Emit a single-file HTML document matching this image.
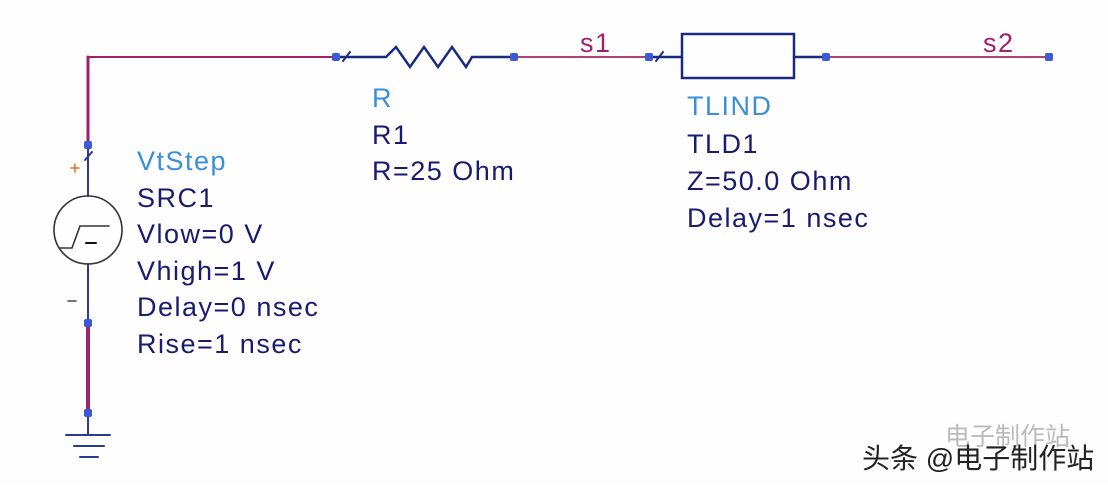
<!DOCTYPE html>
<html><head><meta charset="utf-8"><style>
body{margin:0;background:#fff;width:1108px;height:486px;overflow:hidden}
text{font-family:"Liberation Sans",sans-serif}
</style></head><body>
<svg width="1108" height="486" viewBox="0 0 1108 486" xmlns="http://www.w3.org/2000/svg">
<rect width="1108" height="486" fill="#fefefe"/>
<g fill="none" stroke-linecap="round">
<path d="M88 145 V57 H336" stroke="#a0206a" stroke-width="2"/>
<path d="M88 57 V145" stroke="#a0206a" stroke-width="3"/>
<path d="M514 57 H649 M826 57 H1049" stroke="#b0407a" stroke-width="2"/>
<path d="M88 323 V413" stroke="#a0206a" stroke-width="4"/>
<path d="M336 57 H386 L396 47 L410 67 L424 47 L438 67 L452 47 L466 67 L472 57 H514" stroke="#1a2a80" stroke-width="2.5"/>
<path d="M343 61 L350 52" stroke="#1a2a80" stroke-width="2"/>
<path d="M649 57 H682 M794 57 H826" stroke="#1a2a80" stroke-width="2.5"/>
<path d="M656 61 L663 52" stroke="#1a2a80" stroke-width="2"/>
<rect x="682" y="34" width="112" height="44" stroke="#1a2a80" stroke-width="2.5"/>
<path d="M88 145 V196 M88 264 V323" stroke="#2a3a90" stroke-width="2"/>
<path d="M85 160 L92 152" stroke="#2a3a90" stroke-width="2"/>
<circle cx="88" cy="230" r="34" stroke="#333" stroke-width="1.6"/>
<path d="M60 248 H72 L80 226 H109" stroke="#333" stroke-width="1.6"/>
<path d="M86 243 H96" stroke="#111" stroke-width="2"/>
<path d="M71 168 H79 M75 164 V172" stroke="#e07020" stroke-width="1.5"/>
<path d="M68 301 H76" stroke="#444" stroke-width="1.5"/>
<path d="M88 413 V435 M66 435 H110 M74 446 H104 M80 457 H98" stroke="#2a3a90" stroke-width="2"/>
</g>
<g fill="#3a5ad8">
<rect x="84" y="141" width="8" height="8" rx="2"/>
<rect x="332" y="53" width="8" height="8" rx="2"/>
<rect x="510" y="53" width="8" height="8" rx="2"/>
<rect x="645" y="53" width="8" height="8" rx="2"/>
<rect x="822" y="53" width="8" height="8" rx="2"/>
<rect x="1045" y="53" width="8" height="8" rx="2"/>
<rect x="84" y="319" width="8" height="8" rx="2"/>
<rect x="84" y="409" width="8" height="8" rx="2"/>
</g>
<g font-size="27" letter-spacing="1.5">
<text x="580" y="52" fill="#a0206a">s1</text>
<text x="983" y="52" fill="#a0206a">s2</text>
<text x="137" y="170" fill="#3a8fd8">VtStep</text>
<text fill="#1a1a70"><tspan x="137" y="207">SRC1</tspan><tspan x="137" y="243">Vlow=0 V</tspan><tspan x="137" y="280">Vhigh=1 V</tspan><tspan x="137" y="316">Delay=0 nsec</tspan><tspan x="137" y="353">Rise=1 nsec</tspan></text>
<text x="372" y="107" fill="#3a8fd8">R</text>
<text fill="#1a1a70"><tspan x="372" y="144">R1</tspan><tspan x="372" y="180">R=25 Ohm</tspan></text>
<text x="687" y="115" fill="#3a8fd8">TLIND</text>
<text fill="#1a1a70"><tspan x="687" y="153">TLD1</tspan><tspan x="687" y="190">Z=50.0 Ohm</tspan><tspan x="687" y="227">Delay=1 nsec</tspan></text>
</g>
<text x="945" y="445" font-size="25" fill="#bbb" font-family="'Liberation Sans','Noto Sans CJK SC',sans-serif">电子制作站</text>
<text x="862" y="468" font-size="28" fill="#222" font-family="'Liberation Sans','Noto Sans CJK SC',sans-serif">头条 @电子制作站</text>
</svg>
</body></html>
